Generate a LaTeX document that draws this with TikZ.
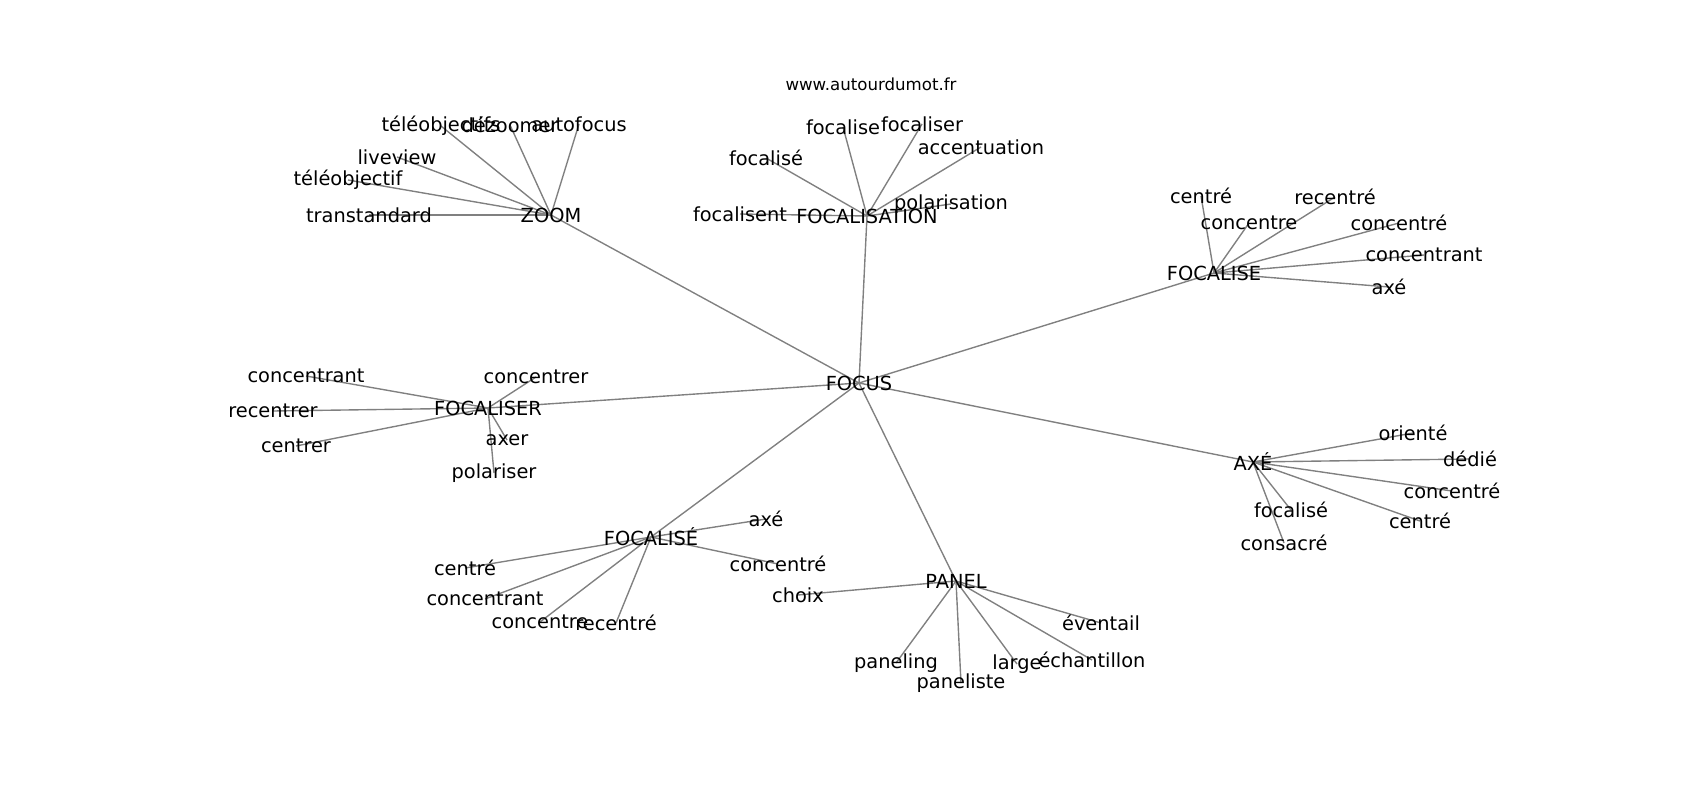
\documentclass[tikz,border=0pt]{standalone}
\usepackage{fontspec}
\setmainfont{DejaVu Sans}
\usetikzlibrary{backgrounds}

\begin{document}
\begin{tikzpicture}[x=0.01in,y=-0.01in,
    word/.style={font=\fontsize{14}{16}\selectfont,inner sep=0pt},
    link/.style={draw=gray,line width=1pt}]
      \useasboundingbox (0,0) rectangle (1700,800);
      \node[font=\fontsize{12}{14}\selectfont,inner sep=0pt](site) at (871,84) {www.autourdumot.fr};
      \node[word](focus) at (859,383) {FOCUS};
      % hubs
      \node[word](zoom) at (551,215) {ZOOM};
      \node[word](fsation) at (867,216) {FOCALISATION};
      \node[word](fise) at (1214,273) {FOCALISE};
      \node[word](fiser) at (488,408) {FOCALISER};
      \node[word](axe) at (1253,462) {AXÉ};
      \node[word](fisee) at (651,537) {FOCALISÉ};
      \node[word](panel) at (956,581) {PANEL};
      % ZOOM
      \node[word](zoom1) at (369,215) {transtandard};
      \node[word](zoom2) at (348,180) {téléobjectif};
      \node[word](zoom3) at (397,157) {liveview};
      \node[word](zoom4) at (441,126) {téléobjectifs};
      \node[word](zoom5) at (510,125) {dézoomer};
      \node[word](zoom6) at (579,124) {autofocus};
      % FOCALISATION
      \node[word](fsation1) at (740,214) {focalisent};
      \node[word](fsation2) at (766,158) {focalisé};
      \node[word](fsation3) at (843,127) {focalise};
      \node[word](fsation4) at (922,124) {focaliser};
      \node[word](fsation5) at (981,147) {accentuation};
      \node[word](fsation6) at (951,204) {polarisation};
      % FOCALISE
      \node[word](fise1) at (1201,196) {centré};
      \node[word](fise2) at (1249,223) {concentre};
      \node[word](fise3) at (1335,197) {recentré};
      \node[word](fise4) at (1399,223) {concentré};
      \node[word](fise5) at (1424,255) {concentrant};
      \node[word](fise6) at (1389,287) {axé};
      % FOCALISER
      \node[word](fiser1) at (306,376) {concentrant};
      \node[word](fiser2) at (273,411) {recentrer};
      \node[word](fiser3) at (296,446) {centrer};
      \node[word](fiser4) at (536,377) {concentrer};
      \node[word](fiser5) at (507,440) {axer};
      \node[word](fiser6) at (494,473) {polariser};
      % AXÉ
      \node[word](axe1) at (1413,433) {orienté};
      \node[word](axe2) at (1470,459) {dédié};
      \node[word](axe3) at (1452,491) {concentré};
      \node[word](axe4) at (1420,521) {centré};
      \node[word](axe5) at (1291,510) {focalisé};
      \node[word](axe6) at (1284,543) {consacré};
      % FOCALISÉ
      \node[word](fisee1) at (766,519) {axé};
      \node[word](fisee2) at (778,564) {concentré};
      \node[word](fisee3) at (465,568) {centré};
      \node[word](fisee4) at (485,599) {concentrant};
      \node[word](fisee5) at (540,622) {concentre};
      \node[word](fisee6) at (616,623) {recentré};
      % PANEL
      \node[word](panel1) at (798,595) {choix};
      \node[word](panel2) at (1101,623) {éventail};
      \node[word](panel3) at (1092,660) {échantillon};
      \node[word](panel4) at (1017,664) {large};
      \node[word](panel5) at (961,683) {paneliste};
      \node[word](panel6) at (896,663) {paneling};
      \begin{scope}[on background layer]
        \foreach \h in {zoom,fsation,fise,fiser,axe,fisee,panel}{
          \draw[link] (focus.center) -- (\h.center);
          \foreach \c in {1,...,6}
            \draw[link] (\h.center) -- (\h\c.center);
        }
      \end{scope}
    \end{tikzpicture}
\end{document}
